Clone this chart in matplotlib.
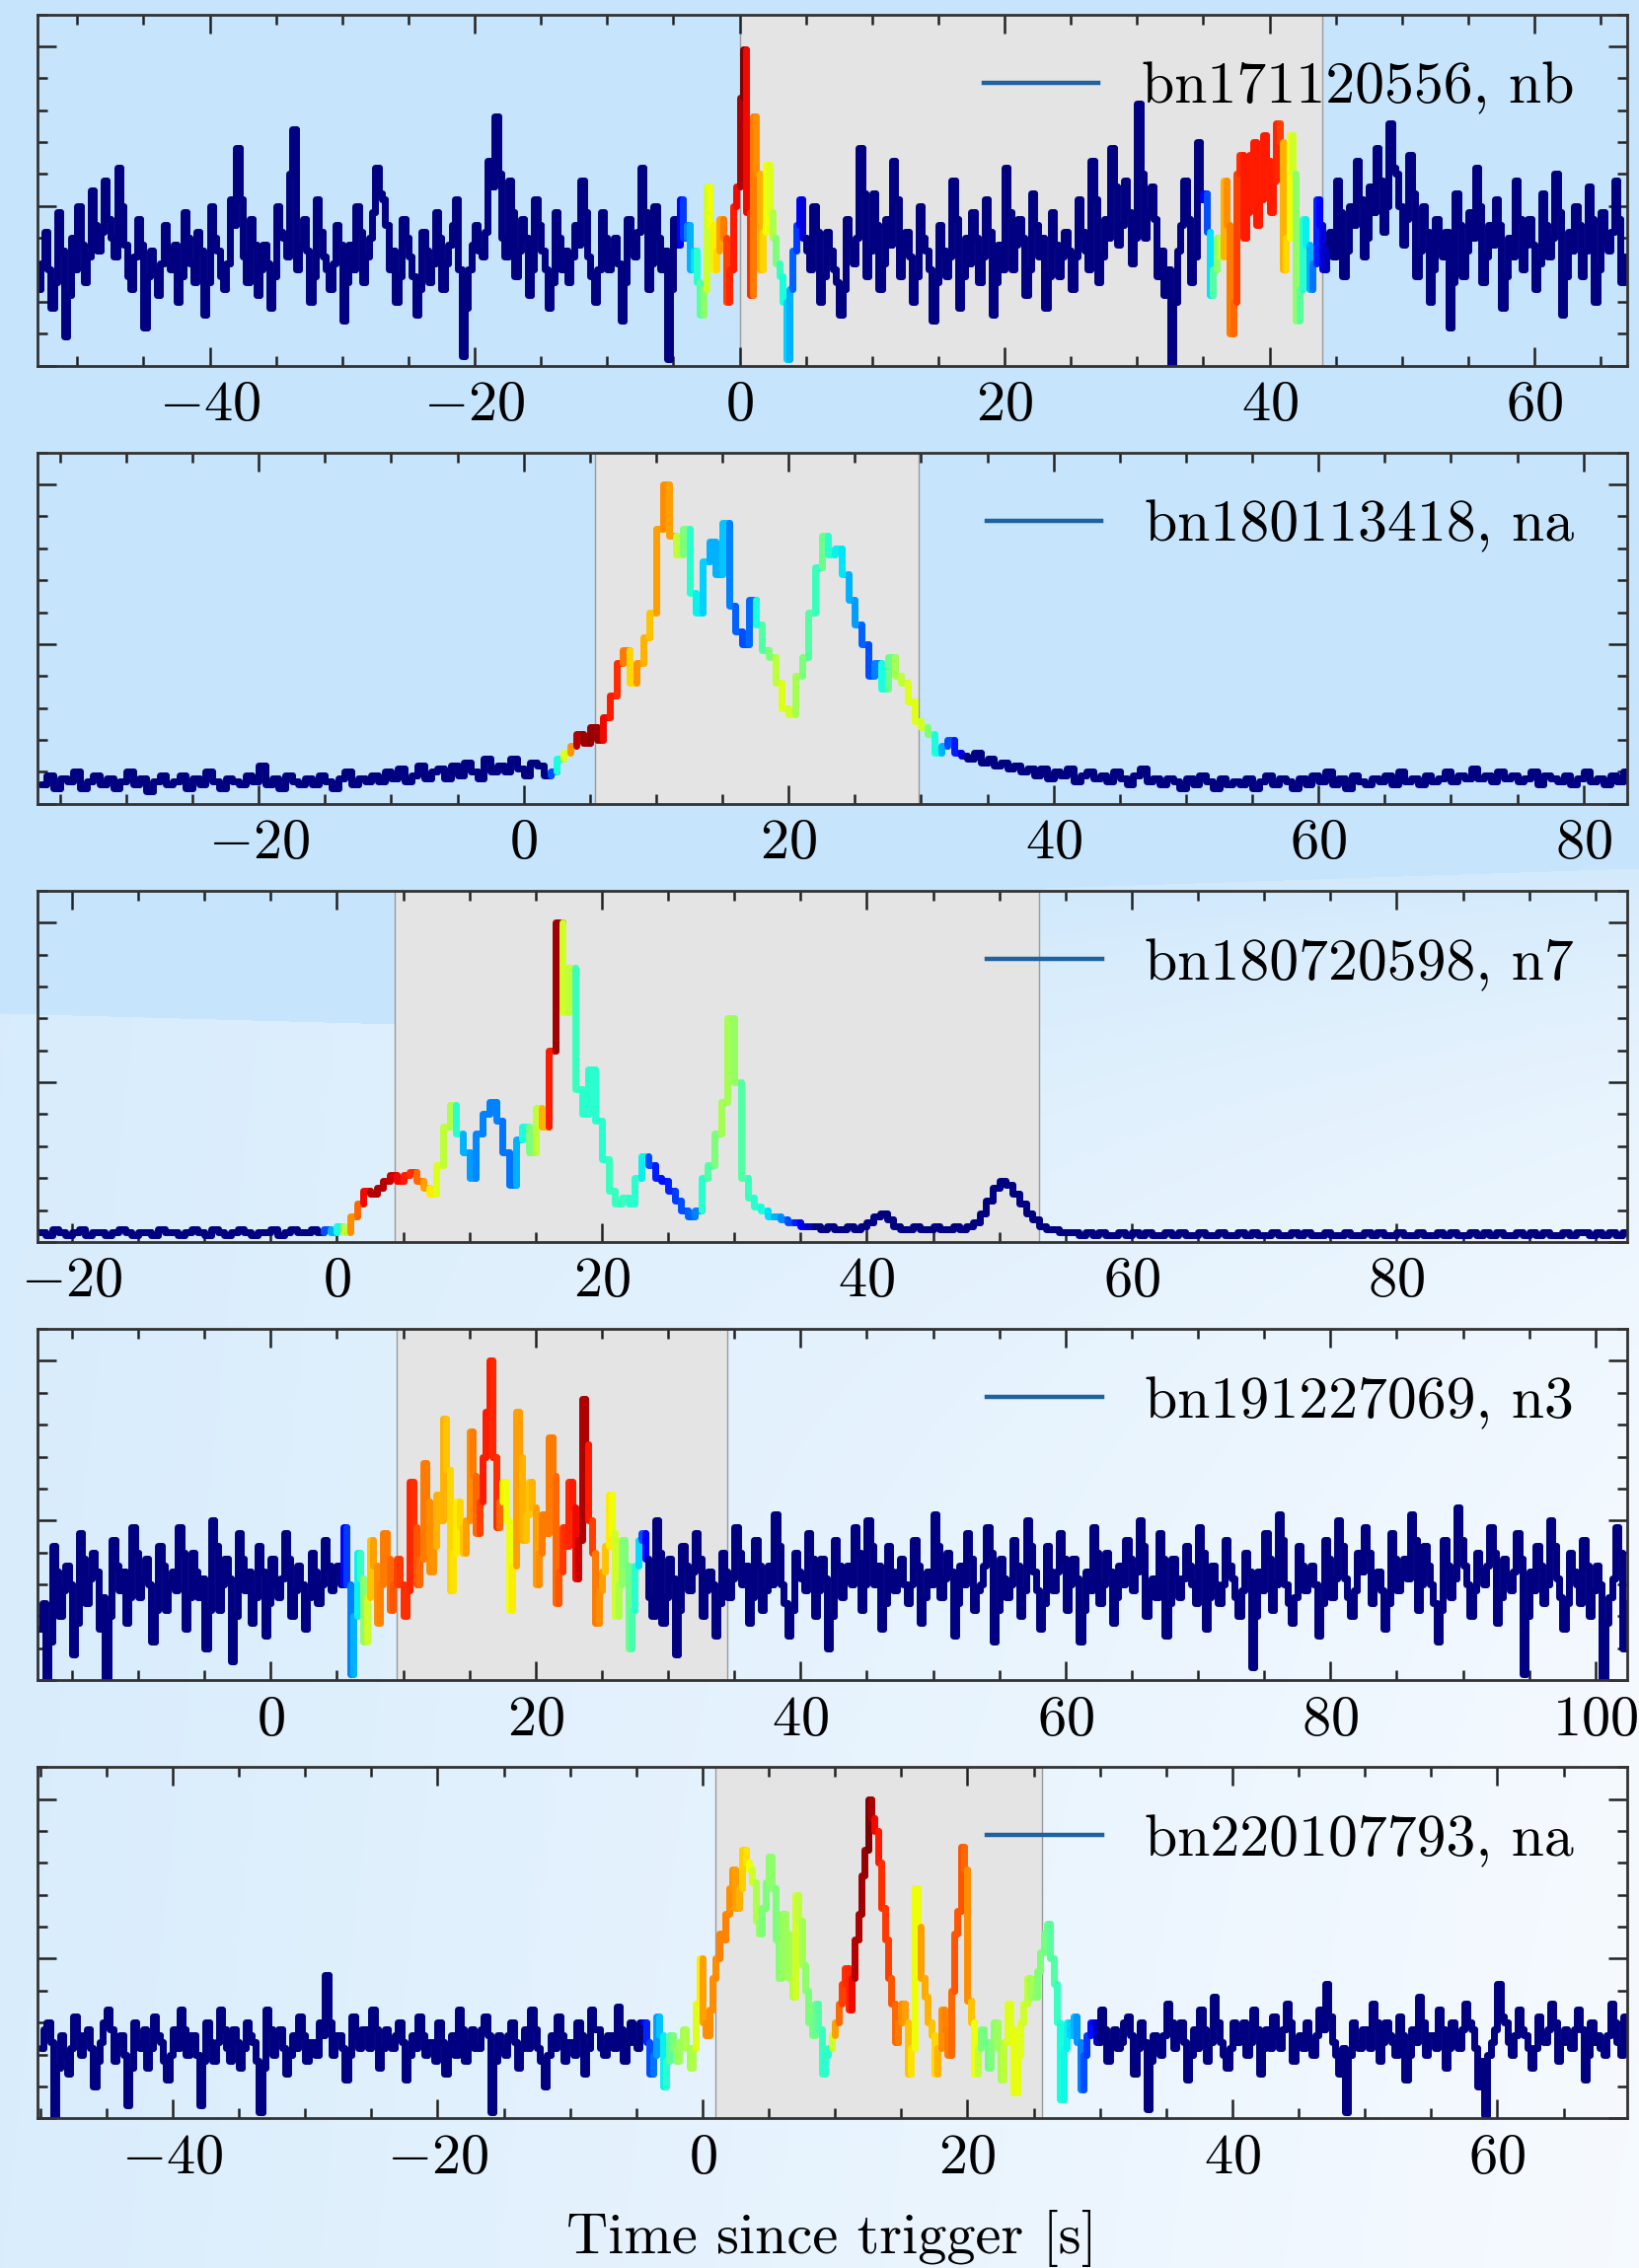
import numpy as np
import matplotlib.pyplot as plt
from matplotlib.collections import LineCollection
from matplotlib.lines import Line2D
from matplotlib.ticker import MultipleLocator

plt.rcParams.update({
    "font.family": "serif",
    "font.serif": ["cmr10"],
    "mathtext.fontset": "cm",
    "axes.formatter.use_mathtext": True,
    "font.size": 42,
})

# Each light curve: first bin start [s], bin width [s], rate per bin (scaled so
# the brightest bin is ~100), colour-index windows (start time, values) and the
# shaded burst interval.

# ---- bn171120556, detector nb -------------------------------------------
NB_T0, NB_BIN = -53.0, 0.25
NB_RATE = [
    24, 32, 42, 30, 18, 26, 48, 36, 9, 22, 40, 30, 50, 38, 26, 34, 55, 44, 36, 42,
    58, 46, 40, 34, 62, 50, 38, 28, 24, 34, 46, 38, 12, 28, 36, 30, 22, 32, 44, 36,
    30, 38, 20, 28, 48, 40, 32, 26, 42, 36, 16, 26, 50, 40, 36, 28, 24, 32, 52, 44,
    68, 52, 34, 26, 46, 38, 22, 30, 38, 32, 18, 28, 50, 42, 40, 34, 60, 74, 30, 38,
    46, 36, 20, 28, 52, 42, 34, 30, 24, 32, 44, 38, 14, 26, 38, 30, 50, 42, 26, 34,
    40, 48, 62, 54, 52, 44, 30, 36, 20, 28, 46, 40, 34, 28, 16, 24, 42, 36, 26, 32,
    48, 40, 24, 32, 38, 44, 52, 30, 3, 18, 30, 38, 44, 36, 34, 42, 64, 56, 78, 60,
    40, 34, 58, 48, 28, 36, 46, 40, 22, 30, 52, 44, 36, 30, 18, 26, 48, 40, 30, 36,
    26, 34, 44, 38, 58, 48, 34, 28, 20, 30, 48, 40, 30, 36, 40, 32, 14, 26, 46, 38,
    34, 42, 62, 48, 24, 32, 50, 40, 30, 36, 2, 24, 46, 38,
    52, 40, 44, 30, 36, 26, 16, 24, 56, 44, 30, 36, 46, 40, 20, 30, 50, 56, 84, 99,
    48, 22, 78, 60, 30, 42, 63, 48, 40, 32, 28, 20, 2, 24, 36, 44, 52, 40,
    36, 30, 50, 42, 20, 28, 42, 36, 30, 26, 16, 24, 46, 38, 32, 40, 68, 54, 28, 36,
    54, 44, 24, 32, 46, 38, 64, 52, 28, 36, 42, 34, 20, 28, 50, 40, 36, 30, 14, 26,
    44, 36, 28, 34, 58, 46, 18, 28, 40, 32, 48, 40, 26, 34, 52, 42, 16, 26, 38, 30,
    62, 48, 30, 38, 46, 40, 22, 30, 54, 44, 34, 40, 18, 28, 48, 38, 28, 34, 42, 36,
    24, 34, 52, 42, 36, 30, 64, 52, 26, 34, 46, 40, 68, 56, 38, 44, 58, 48, 32, 40,
    82, 60, 40, 48, 56, 46, 28, 36, 22, 30, 0, 20, 36, 44, 58, 46, 26, 34, 70, 52,
    54, 42, 22, 30, 40, 34, 58, 44, 10, 20, 60, 66, 40, 48, 66, 70, 44, 52, 72, 64,
    48, 58, 76, 70, 30, 40, 72, 60, 14, 24, 46, 38, 24, 32, 52, 44, 30, 38,
    42, 34, 58, 48, 28, 36, 50, 44, 64, 52, 34, 40, 56, 48, 68, 58, 42, 50, 76, 62,
    60, 50, 38, 46, 66, 54, 28, 36, 50, 42, 20, 30, 46, 38, 34, 42, 12, 26, 54, 44,
    28, 36, 48, 40, 62, 50, 26, 34, 44, 38, 52, 44, 18, 28, 40, 34, 58, 46, 30, 38,
    46, 38, 24, 32, 54, 44, 34, 40, 60, 48, 16, 28, 42, 36, 50, 44, 28, 36, 56, 46,
    20, 30, 48, 40, 36, 42, 58, 46, 26, 34,
]
NB_HUE = [
    (-4.5, [0.12, 0.18, 0.25, 0.3, 0.35, 0.4, 0.46, 0.52, 0.6, 0.64,
            0.66, 0.68, 0.74, 0.78, 0.84, 0.87, 0.88, 0.9, 0.96, 1.0,
            0.9, 0.86, 0.78, 0.76, 0.72, 0.68, 0.64, 0.62, 0.56, 0.5,
            0.42, 0.38, 0.33, 0.3, 0.22, 0.18, 0.12, 0.08]),
    (35.0, [0.12, 0.2, 0.35, 0.45, 0.52, 0.58, 0.72, 0.76, 0.78, 0.8,
            0.84, 0.86, 0.88, 0.88, 0.88, 0.88, 0.88, 0.88, 0.88, 0.88,
            0.88, 0.88, 0.87, 0.84, 0.72, 0.68, 0.64, 0.6, 0.52, 0.46,
            0.4, 0.36, 0.3, 0.24, 0.16, 0.12, 0.08, 0.05]),
]
NB_INTERVAL = (0.0, 44.0)

# ---- bn180113418, detector na -------------------------------------------
NA1_T0, NA1_BIN = -36.5, 0.5
NA1_RATE = [
    6, 9, 5, 8, 7, 10, 5, 7, 9, 6,
    8, 5, 7, 10, 6, 8, 4, 7, 9, 6,
    7, 9, 5, 8, 6, 10, 7, 5, 8, 7,
    6, 9, 7, 12, 6, 8, 5, 9, 7, 6,
    8, 6, 9, 7, 5, 8, 10, 6, 8, 7,
    9, 7, 10, 8, 11, 7, 9, 12, 8, 10,
    11, 8, 12, 9, 13, 10, 8, 14, 10, 12,
    10, 14, 11, 9, 13, 12, 9,
    10, 14, 16, 18, 22, 19, 24, 20, 27, 34,
    44, 48, 38, 44, 52, 60, 86, 100, 84, 78,
    86, 66, 60, 76, 82, 72, 88, 62, 54, 50,
    64, 56, 48, 46, 38, 30, 28, 40, 46, 60,
    74, 84, 78, 80, 72, 64, 56, 50, 40, 44,
    36, 46, 40, 38, 32, 26, 24, 22, 16, 18,
    20, 16, 15,
    14, 16, 13, 14, 12, 13, 11, 12, 10, 11,
    9, 11, 8, 10, 9, 11, 7, 9, 10, 8,
    9, 7, 10, 8, 6, 9, 11, 7, 8, 6,
    8, 7, 5, 8, 6, 9, 7, 5, 8, 6,
    7, 6, 8, 5, 7, 9, 6, 8, 7, 5,
    8, 6, 9, 7, 10, 6, 8, 5, 9, 7,
    6, 8, 7, 9, 6, 10, 7, 8, 6, 9,
    7, 8, 10, 7, 9, 8, 11, 8, 9, 7,
    10, 8, 9, 7, 8, 10, 6, 9, 8, 7,
    9, 6, 8, 10, 7, 8, 6, 9, 7, 10,
]
NA1_HUE = [
    (2.0, [0.2, 0.38, 0.62, 0.75, 0.95, 0.97, 0.98, 0.97, 0.9, 0.88,
           0.86, 0.78, 0.68, 0.75, 0.72, 0.7, 0.74, 0.76, 0.74, 0.58,
           0.5, 0.4, 0.36, 0.33, 0.3, 0.3, 0.32, 0.25, 0.22, 0.2,
           0.23, 0.38, 0.45, 0.5, 0.58, 0.62, 0.6, 0.55, 0.5, 0.45,
           0.42, 0.48, 0.4, 0.36, 0.35, 0.3, 0.28, 0.22, 0.2, 0.25,
           0.38, 0.48, 0.55, 0.58, 0.62, 0.62, 0.6, 0.5, 0.38, 0.3,
           0.2, 0.15, 0.08]),
]
NA1_INTERVAL = (5.4, 29.8)

# ---- bn180720598, detector n7 -------------------------------------------
N7_T0, N7_BIN = -22.5, 0.5
N7_RATE = [
    3, 2, 4, 3, 2, 3, 4, 2, 3, 3,
    2, 3, 4, 3, 2, 3, 3, 2, 4, 3,
    3, 2, 3, 4, 3, 2, 4, 3, 2, 3,
    4, 3, 2, 3, 3, 4, 2, 3, 4, 3,
    3, 4, 3,
    4, 3, 5, 3, 8, 12, 16, 15, 17, 19,
    21, 19, 21, 22, 19, 17, 15, 24, 36, 43,
    34, 28, 20, 34, 40, 44, 38, 28, 18, 32,
    36, 28, 42, 36, 60, 100, 72, 86, 48, 40,
    54, 38, 26, 16, 12, 14, 12, 20, 27, 24,
    20, 19, 16, 13, 10, 8, 10, 20, 24, 34,
    44, 70, 50, 20, 14, 11, 10, 8, 8, 7,
    6, 6, 5, 5,
    5, 4, 5, 4, 4, 5, 4, 5, 6, 8,
    9, 7, 5, 4, 4, 5, 4, 4, 5, 4,
    4, 5, 4, 5, 6, 9, 13, 17, 19, 18,
    15, 12, 9, 7, 5, 4, 4, 3, 3, 3,
    2, 3, 2, 3, 2, 2, 3, 2, 3, 2,
    3, 2, 2, 3, 2, 3, 2, 2, 3, 2,
    2, 3, 2, 2, 3, 2, 3, 2, 2, 3,
    2, 2, 3, 2, 3, 2, 2, 3, 2, 2,
    3, 2, 2, 3, 2, 3, 2, 2, 3, 2,
    2, 3, 2, 2, 3, 2, 3, 2, 2, 3,
    2, 3, 2, 3, 2, 2, 3, 2, 3, 2,
    3, 2, 2, 3, 2, 3, 3, 2, 3, 2,
    3, 2, 3,
]
N7_HUE = [
    (-1.0, [0.2, 0.3, 0.38, 0.58, 0.76, 0.8, 0.9, 0.95, 0.96, 0.95,
            0.93, 0.9, 0.88, 0.86, 0.8, 0.74, 0.66, 0.62, 0.58, 0.56,
            0.4, 0.3, 0.28, 0.26, 0.25, 0.25, 0.25, 0.24, 0.24, 0.3,
            0.38, 0.5, 0.58, 0.72, 0.88, 0.97, 0.6, 0.58, 0.42, 0.4,
            0.4, 0.4, 0.4, 0.42, 0.42, 0.42, 0.4, 0.4, 0.36, 0.2,
            0.15, 0.14, 0.16, 0.18, 0.2, 0.22, 0.25, 0.4, 0.45, 0.5,
            0.55, 0.55, 0.53, 0.45, 0.42, 0.4, 0.38, 0.34, 0.3, 0.26,
            0.2, 0.15, 0.1, 0.06]),
]
N7_INTERVAL = (4.4, 53.0)

# ---- bn191227069, detector n3 -------------------------------------------
N3_T0, N3_BIN = -17.5, 0.25
N3_RATE = [
    16, 24, 0, 12, 42, 34, 20, 28, 36, 30, 8, 18, 46, 38, 24, 32, 40, 34, 16, 26,
    0, 20, 44, 36, 28, 34, 18, 26, 48, 40, 26, 32, 38, 30, 12, 22, 42, 36, 22, 30,
    34, 28, 48, 40, 16, 26, 40, 34, 26, 32, 10, 22, 50, 42, 22, 30, 38, 32, 6, 20,
    46, 38, 28, 34, 18, 26, 42, 34, 14, 24, 38, 30, 26, 32, 46, 38, 20, 28, 36, 30,
    16, 26, 40, 34, 24, 30, 44, 36, 28, 34, 36, 30,
    48, 30, 2, 20, 40, 32, 12, 26, 44, 36,
    18, 30, 46, 38, 22, 30, 38, 30, 20, 28,
    62, 48, 30, 38, 68, 56, 34, 42, 58, 50,
    82, 66, 28, 40, 56, 48, 40, 50, 78, 64,
    46, 56, 70, 84, 100, 70, 48, 56, 62, 50,
    22, 36, 84, 70, 44, 52, 62, 54, 30, 40,
    52, 46, 76, 64, 24, 34, 48, 42, 62, 54,
    32, 44, 88, 74, 50, 40, 18, 28, 34, 42,
    58, 46, 20, 30, 44, 36, 10, 22, 36, 44,
    46, 38,
    26, 20, 50, 40, 18, 26, 38, 32, 8, 22, 42, 36, 28, 34, 46, 38, 20, 28, 34, 30,
    14, 24, 40, 34, 26, 32, 48, 40, 30, 36, 18, 26, 44, 36, 22, 28, 36, 30, 52, 42,
    30, 24, 14, 22, 40, 34, 32, 28, 46, 38, 20, 28, 38, 32, 10, 20, 44, 36, 26, 32,
    36, 30, 48, 40, 22, 30, 50, 42, 30, 36, 16, 24, 42, 34, 28, 34, 38, 30, 24, 30,
    44, 36, 18, 26, 34, 30, 52, 42, 26, 32, 40, 34, 14, 24, 36, 30, 46, 38, 22, 28,
    30, 36, 48, 40, 12, 22, 38, 32, 26, 30, 44, 36, 20, 28, 50, 42, 34, 28, 16, 24,
    42, 34, 28, 34, 46, 38, 22, 30, 38, 32, 12, 22, 34, 28, 48, 40, 24, 30, 40, 34,
    18, 26, 36, 30, 44, 38, 28, 34, 50, 42, 20, 28, 32, 26, 46, 38, 14, 24, 38, 32,
    26, 32, 42, 36, 30, 24, 48, 40, 16, 26, 36, 30, 24, 30, 44, 36, 32, 26, 20, 28,
    40, 34, 4, 20, 34, 28, 46, 38, 22, 30, 52, 44, 30, 24, 18, 26, 42, 36, 28, 34,
    36, 30, 14, 24, 44, 38, 26, 32, 50, 42, 32, 26, 20, 28, 40, 34, 48, 40, 24, 30,
    34, 28, 16, 24, 46, 38, 28, 34, 38, 32, 52, 44, 22, 30, 42, 36, 30, 24, 12, 22,
    44, 36, 26, 32, 54, 44, 36, 30, 20, 28, 40, 34, 30, 36, 48, 40, 18, 26, 38, 32,
    28, 34, 46, 38, 2, 20, 34, 28, 42, 36, 24, 30, 50, 42, 32, 26, 16, 24, 40, 34,
    30, 24, 44, 36, 20, 28, 36, 30, 0, 18, 26, 32, 48, 40, 10, 24,
]
N3_HUE = [
    (5.5, [0.12, 0.18, 0.25, 0.3, 0.36, 0.42, 0.52, 0.6, 0.7, 0.74,
           0.76, 0.77, 0.78, 0.78, 0.8, 0.82, 0.84, 0.85, 0.86, 0.86,
           0.87, 0.86, 0.82, 0.8, 0.78, 0.78, 0.76, 0.75, 0.72, 0.72,
           0.72, 0.7, 0.68, 0.67, 0.66, 0.68, 0.7, 0.74, 0.76, 0.78,
           0.8, 0.84, 0.88, 0.88, 0.88, 0.87, 0.86, 0.8, 0.65, 0.64,
           0.64, 0.66, 0.74, 0.74, 0.72, 0.7, 0.7, 0.72, 0.74, 0.76,
           0.78, 0.78, 0.78, 0.78, 0.8, 0.82, 0.85, 0.86, 0.87, 0.88,
           0.9, 0.93, 0.96, 0.96, 0.88, 0.84, 0.78, 0.76, 0.74, 0.7,
           0.66, 0.64, 0.6, 0.56, 0.52, 0.5, 0.48, 0.44, 0.4, 0.34,
           0.2, 0.12]),
]
N3_INTERVAL = (9.5, 34.5)

# ---- bn220107793, detector na -------------------------------------------
NA2_T0, NA2_BIN = -50.0, 0.25
NA2_RATE = [
    22, 28, 30, 24, 0, 16, 26, 20, 14, 22, 32, 26, 20, 26, 28, 22, 10, 18, 24, 30,
    34, 28, 18, 24, 26, 20, 4, 16, 30, 24, 22, 28, 16, 22, 32, 26, 24, 18, 12, 20,
    28, 22, 34, 28, 20, 26, 26, 20, 4, 18, 30, 24, 18, 24, 34, 28, 22, 18, 28, 24,
    16, 22, 30, 26, 24, 18, 2, 16, 34, 28, 20, 26, 28, 22, 14, 20, 26, 22, 32, 26,
    18, 24, 24, 20, 30, 26, 45, 30, 20, 26, 26, 22, 12, 20, 32, 26, 22, 28, 28, 22,
    34, 28, 16, 22, 28, 24, 22, 26, 30, 24, 12, 20, 26, 22, 32, 26, 20, 24, 24, 18,
    30, 24, 14, 22, 26, 20, 34, 28, 18, 24, 28, 22, 22, 28, 32, 26, 2, 18, 26, 22,
    20, 26, 30, 24, 16, 22, 28, 22, 34, 28, 22, 18, 10, 20, 26, 22, 32, 26, 18, 24,
    24, 20, 30, 26, 14, 22, 34, 28, 28, 22, 20, 26, 26, 22, 35, 28, 18, 24, 30, 24,
    22, 30,
    30, 24, 14, 20, 32, 26, 10, 18, 26, 22, 18, 24, 28, 22, 16, 22, 36, 50, 30, 26,
    34, 44, 50, 58, 56, 64, 72, 78, 66, 72, 84, 80, 78, 74, 62, 58, 66, 74, 82, 72,
    56, 44, 64, 58, 44, 38, 70, 62, 48, 40, 30, 26, 36, 28, 14, 20, 22, 26, 30, 36,
    42, 47, 34, 44, 56, 64, 76, 84, 100, 94, 90, 80, 66, 56, 44, 36, 24, 30, 36, 30,
    14, 22, 72, 60, 44, 38, 30, 26, 14, 22, 34, 28, 20, 40, 58, 65, 85, 78, 37, 30,
    14, 22, 28, 24, 16, 24, 30, 22, 12, 24, 36, 28, 8, 20, 30, 36, 44, 38, 38, 46,
    52, 58, 61, 50, 42, 30, 6, 22, 30, 26, 32, 24, 9, 20, 26, 30, 30, 24,
    34, 28, 18, 24, 28, 22, 24, 30, 32, 26, 14, 22, 30, 24, 3, 18, 26, 22, 20, 26,
    36, 30, 22, 26, 30, 24, 12, 20, 28, 22, 34, 28, 18, 24, 38, 30, 24, 20, 16, 22,
    30, 24, 26, 30, 20, 24, 34, 28, 14, 22, 28, 22, 32, 26, 22, 28, 36, 30, 18, 24,
    26, 22, 30, 24, 20, 26, 34, 28, 42, 32, 24, 20, 14, 22, 2, 20, 30, 24, 22, 28,
    28, 22, 36, 30, 18, 24, 30, 26, 24, 20, 32, 26, 12, 20, 28, 24, 38, 30, 20, 26,
    26, 22, 34, 28, 16, 22, 30, 24, 22, 28, 36, 30, 28, 22, 10, 18, 1, 20, 24, 28,
    42, 32, 30, 24, 20, 26, 34, 28, 26, 22, 16, 22, 32, 26, 24, 28, 36, 30, 18, 24,
    28, 24, 22, 28, 34, 28, 12, 20, 30, 24, 26, 22, 20, 26, 36, 30, 24, 20, 32, 26,
]
NA2_HUE = [
    (-4.5, [0.12, 0.16, 0.2, 0.24, 0.28, 0.32, 0.36, 0.4, 0.46, 0.5,
            0.52, 0.54, 0.55, 0.56, 0.55, 0.56, 0.62, 0.66, 0.74, 0.76,
            0.76, 0.76, 0.76, 0.77, 0.77, 0.77, 0.76, 0.75, 0.74, 0.72,
            0.69, 0.67, 0.64, 0.6, 0.56, 0.53, 0.5, 0.5, 0.52, 0.52,
            0.5, 0.51, 0.53, 0.54, 0.55, 0.57, 0.6, 0.58, 0.55, 0.52,
            0.5, 0.49, 0.48, 0.45, 0.42, 0.4, 0.4, 0.6, 0.74, 0.8,
            0.84, 0.86, 0.87, 0.9, 0.95, 0.96, 0.97, 0.98, 1.0, 0.96,
            0.9, 0.88, 0.86, 0.85, 0.84, 0.82, 0.8, 0.78, 0.76, 0.74,
            0.7, 0.67, 0.64, 0.64, 0.74, 0.73, 0.72, 0.7, 0.68, 0.72,
            0.76, 0.77, 0.78, 0.8, 0.82, 0.82, 0.82, 0.8, 0.76, 0.7,
            0.64, 0.58, 0.5, 0.49, 0.48, 0.5, 0.52, 0.54, 0.55, 0.58,
            0.62, 0.62, 0.63, 0.63, 0.62, 0.6, 0.58, 0.55, 0.52, 0.51,
            0.5, 0.49, 0.48, 0.46, 0.45, 0.42, 0.38, 0.37, 0.36, 0.33,
            0.3, 0.27, 0.25, 0.2, 0.18, 0.14, 0.1, 0.06]),
]
NA2_INTERVAL = (1.0, 25.6)

LABELS = ["bn171120556, nb", "bn180113418, na", "bn180720598, n7",
          "bn191227069, n3", "bn220107793, na"]
XLIMS = [(-53.0, 67.0), (-36.7, 83.3), (-22.6, 97.4), (-17.6, 102.4), (-50.2, 69.8)]

bursts = [
    (NB_T0, NB_BIN, NB_RATE, NB_HUE, NB_INTERVAL),
    (NA1_T0, NA1_BIN, NA1_RATE, NA1_HUE, NA1_INTERVAL),
    (N7_T0, N7_BIN, N7_RATE, N7_HUE, N7_INTERVAL),
    (N3_T0, N3_BIN, N3_RATE, N3_HUE, N3_INTERVAL),
    (NA2_T0, NA2_BIN, NA2_RATE, NA2_HUE, NA2_INTERVAL),
]
for _, dt, rate, _, _ in bursts:
    assert abs(len(rate) * dt - 120.0) < 1e-9, len(rate)

W, H = 1661, 2299


def slide_background(w, h):
    """Soft blue backdrop with the lighter lower panel of the slide."""
    y, x = np.mgrid[0:h, 0:w].astype(np.float32)
    edge = np.interp(x, [0, 402, 1060, w], [1027, 1038, 900, 880])
    d = np.clip(y - edge, 0, None)
    ramp = np.interp(x, [0, 402, 1060, w], [1.0, 1.0, 0.3, 0.3])
    s = (0.33 + 0.55 * x / w) * (1 - (1 - ramp) * np.exp(-d / 250.0)) + 0.08 * d / h
    s = np.where(y < edge, 0.0, np.clip(s, 0, 0.95))
    base = np.array([198, 228, 251], dtype=np.float32) / 255
    light = np.array([250, 252, 255], dtype=np.float32) / 255
    return base + s[..., None] * (light - base)


def colored_steps(ax, t0, dt, rate, hue_windows):
    rate = np.asarray(rate, dtype=float)
    hue = np.zeros(len(rate))
    for start, vals in hue_windows:
        i0 = int(round((start - t0) / dt))
        hue[i0:i0 + len(vals)] = vals
    edges = t0 + dt * np.arange(len(rate) + 1)
    prev = np.r_[rate[0], rate[:-1]]
    segs = np.stack([
        np.column_stack([edges[:-1], prev]),
        np.column_stack([edges[:-1], rate]),
        np.column_stack([edges[1:], rate]),
    ], axis=1)
    lc = LineCollection(segs, cmap="jet", norm=plt.Normalize(0, 1),
                        linewidths=5.0, capstyle="round", joinstyle="round", zorder=2)
    lc.set_array(hue)
    ax.add_collection(lc)


fig = plt.figure(figsize=(W / 100, H / 100), dpi=100)
bg = fig.add_axes([0, 0, 1, 1], zorder=-1)
bg.imshow(slide_background(W, H), aspect="auto", extent=(0, 1, 0, 1), origin="upper")
bg.axis("off")

left, right = 38, 1649
top0, pitch, height = 14.5, 444.2, 356

for k, ((t0, dt, rate, hue, interval), label, xlim) in enumerate(zip(bursts, LABELS, XLIMS)):
    top = top0 + k * pitch
    ax = fig.add_axes([left / W, 1 - (top + height) / H, (right - left) / W, height / H])
    ax.set_facecolor("none")
    ax.axvspan(*interval, facecolor="#e4e4e4", edgecolor="#9a9a9a", linewidth=1.0, zorder=1)
    colored_steps(ax, t0, dt, rate, hue)
    ax.set_xlim(*xlim)
    ax.set_ylim(0, 110)

    ax.xaxis.set_major_locator(MultipleLocator(20))
    ax.xaxis.set_minor_locator(MultipleLocator(5))
    ax.yaxis.set_major_locator(MultipleLocator(50))
    ax.yaxis.set_minor_locator(MultipleLocator(10))
    ax.tick_params(which="both", direction="in", top=True, right=True,
                   labelleft=False, color="#222222", width=1.8)
    ax.tick_params(which="major", length=14)
    ax.tick_params(which="minor", length=7)
    ax.tick_params(axis="x", which="major", labelsize=42, pad=11)
    for sp in ax.spines.values():
        sp.set_linewidth(2.0)
        sp.set_color("#333333")

    handle = Line2D([], [], color="#1f62a0", linewidth=3.2)
    ax.legend([handle], [label], loc="center right", bbox_to_anchor=(0.985, 0.789),
              frameon=False, borderpad=0, handlelength=1.95, handletextpad=0.73,
              fontsize=43)

fig.text(843 / W, 1 - 2269 / H, "Time since trigger [s]", ha="center", va="center", fontsize=42)

fig.savefig("out.png", dpi=100)
